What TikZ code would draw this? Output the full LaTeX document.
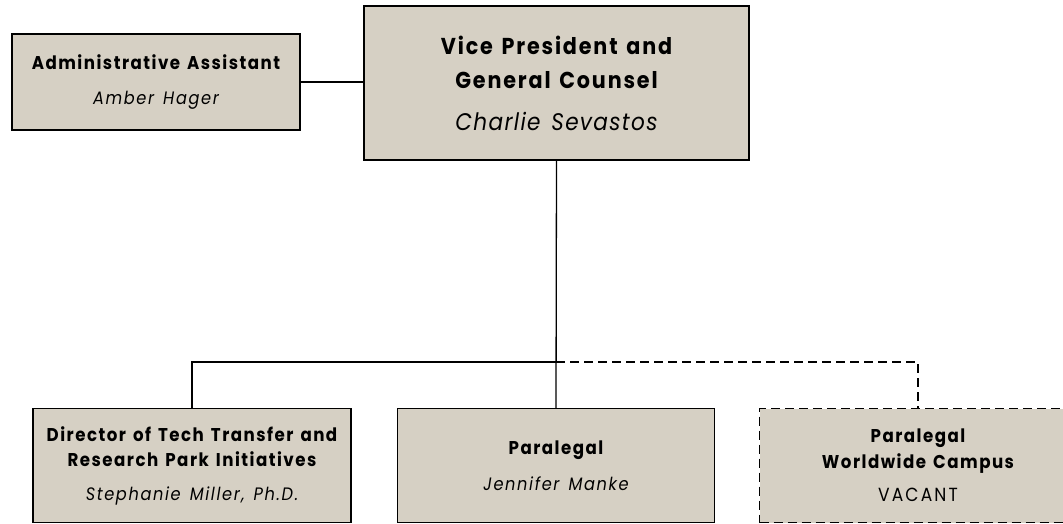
\documentclass[tikz,border=0pt]{standalone}
\usepackage{fontspec}
\setmainfont{Poppins}
\newfontfamily\spacedfont{Poppins}[LetterSpace=8,FakeStretch=0.9,WordSpace=1.5]
\newfontfamily\vpfont{Poppins}[LetterSpace=8,FakeStretch=0.9,WordSpace=1.4]
\newfontfamily\namefont{Poppins}[LetterSpace=9,FakeStretch=0.9,WordSpace=1.4]
\newfontfamily\bignamefont{Poppins}[LetterSpace=5.5,FakeStretch=0.9,WordSpace=1.4]
\newfontfamily\vacantfont{Poppins}[LetterSpace=11,FakeStretch=0.9]
\definecolor{boxfill}{RGB}{214,208,196}
\newcommand{\ttlfont}{\spacedfont\fontsize{18.5}{25.5}\selectfont\bfseries}
\newcommand{\bigttlfont}{\vpfont\fontsize{23}{34}\selectfont\bfseries}
\newcommand{\nmfont}{\namefont\fontsize{18}{25.5}\selectfont\mdseries\itshape}
\newcommand{\bignmfont}{\bignamefont\fontsize{24}{34}\selectfont\mdseries\itshape}
\newcommand{\vacfont}{\vacantfont\fontsize{19}{25.5}\selectfont\mdseries\upshape}
\begin{document}
\begin{tikzpicture}[x=1pt,y=-1pt,
  box/.style={draw=black, line width=1.5pt, fill=boxfill, inner sep=0pt, align=center, font=\ttlfont},
  dbox/.style={box, dash pattern=on 9pt off 5pt},
  link/.style={draw=black, line width=1.3pt},
  dlink/.style={link, dash pattern=on 9pt off 5pt}]
\clip (0,0) rectangle (1063,524);
\fill[white] (0,0) rectangle (1063,524);
\node[box, minimum width=288pt, minimum height=96pt] (admin) at (156,82)
  {Administrative Assistant\\[10pt]{\nmfont Amber Hager}};
\node[box, minimum width=385pt, minimum height=154pt, font=\bigttlfont] (vp) at (556.5,83)
  {Vice President and\\General Counsel\\[8pt]{\bignmfont Charlie Sevastos}};
\node[box, minimum width=318pt, minimum height=114pt] (dir) at (192,465.5)
  {Director of Tech Transfer and\\Research Park Initiatives\\[8pt]{\nmfont Stephanie Miller, Ph.D.}};
\node[box, minimum width=317pt, minimum height=114pt] (par) at (556,465.5)
  {Paralegal\\[10pt]{\nmfont Jennifer Manke}};
\node[dbox, minimum width=317pt, minimum height=114pt] (vac) at (918,465.5)
  {Paralegal\\Worldwide Campus\\[8pt]{\vacfont VACANT}};
\coordinate (bus) at (556,362);
\draw[link] (admin.east) -- (vp.west |- admin.east);
\draw[link] (vp.south) -- (par.north);
\draw[link] (dir.north) -- (dir.north |- bus) -- (bus);
\draw[dlink] (bus) -- (vac.north |- bus) -- (vac.north);
\end{tikzpicture}
\end{document}
